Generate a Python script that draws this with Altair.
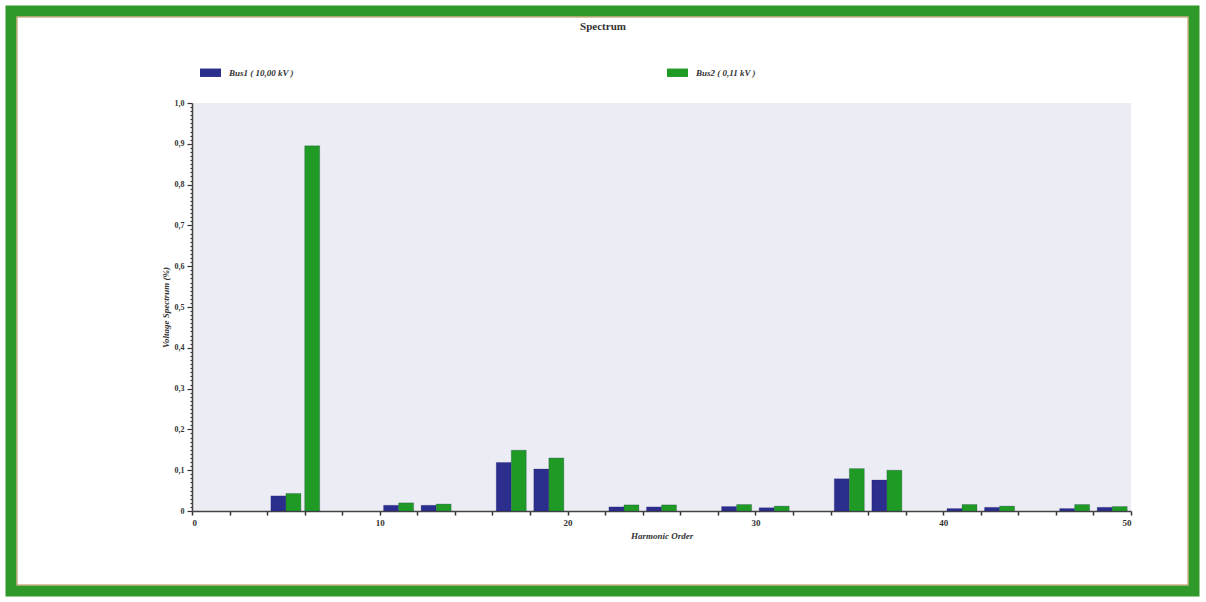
import altair as alt
import pandas as pd

# ---- data ----
orders = [5, 6, 11, 13, 17, 19, 23, 25, 29, 31, 35, 37, 41, 43, 47, 49]
bus1 = [0.037, 0.0, 0.014, 0.014, 0.119, 0.103, 0.010, 0.010, 0.011, 0.008,
        0.079, 0.076, 0.006, 0.009, 0.006, 0.009]
bus2 = [0.043, 0.895, 0.020, 0.017, 0.149, 0.130, 0.015, 0.015, 0.016, 0.012,
        0.104, 0.100, 0.016, 0.012, 0.016, 0.011]
series_names = ["Bus1 ( 10,00 kV )", "Bus2 ( 0,11 kV )"]
series_colors = ["#2c2e8e", "#1f9b25"]
chart_title = "Spectrum"
x_tick_values = list(range(0, 51, 2))
y_tick_values = [round(i * 0.01, 2) for i in range(0, 101)]

rows = []
for o, a, b in zip(orders, bus1, bus2):
    rows.append({"order": o, "series": series_names[0], "value": a, "side": 0})
    rows.append({"order": o, "series": series_names[1], "value": b, "side": 1})
df = pd.DataFrame(rows)

FONT = "Liberation Serif"
W, H = 939, 408

x_scale = alt.Scale(domain=[0, 50], nice=False, zero=False)
y_scale = alt.Scale(domain=[0, 1.0], nice=False)

bars = alt.Chart(df).transform_filter("datum.value > 0").transform_calculate(
    x0="datum.order - 0.8 + datum.side * 0.8",
    x1="datum.order + datum.side * 0.8",
).mark_bar(strokeWidth=0.6, stroke="#1a1a50", strokeOpacity=0.35).encode(
    x=alt.X("x0:Q", scale=x_scale,
            axis=alt.Axis(
                values=x_tick_values,
                title="Harmonic Order",
                labelExpr="datum.value % 10 == 0 ? datum.label : ''",
                tickSize=4, tickColor="#333333", tickWidth=1.5,
                domainColor="#444444", domainWidth=1.5,
                labelFont=FONT, labelFontSize=9, labelFontWeight="bold",
                labelColor="#333333", labelPadding=3,
                titleFont=FONT, titleFontSize=9, titleFontStyle="italic",
                titleFontWeight="bold", titleColor="#333333", titlePadding=4,
                grid=False)),
    x2="x1:Q",
    y=alt.Y("value:Q", scale=y_scale,
            axis=alt.Axis(
                values=y_tick_values,
                title="Voltage Spectrum (%)",
                labelExpr="abs(datum.value*10 - round(datum.value*10)) < 1e-6 ? (datum.value == 0 ? '0' : replace(format(datum.value, '.1f'), '.', ',')) : ''",
                tickSize={"condition": {"test": "abs(datum.value*10 - round(datum.value*10)) < 1e-6", "value": 5}, "value": 2},
                tickColor="#333333", tickWidth=1.2,
                domainColor="#444444", domainWidth=1.5,
                labelFont=FONT, labelFontSize=8, labelFontWeight="bold",
                labelColor="#333333", labelPadding=3,
                titleFont=FONT, titleFontSize=9, titleFontStyle="italic",
                titleFontWeight="bold", titleColor="#333333", titlePadding=4,
                grid=False)),
    y2=alt.datum(0),
    color=alt.Color("series:N",
                    scale=alt.Scale(domain=series_names, range=series_colors),
                    legend=alt.Legend(
                        title=None, orient="none", legendX=8, legendY=-41,
                        direction="horizontal", columns=2, columnPadding=373,
                        symbolType="M-1,-0.4L1,-0.4L1,0.4L-1,0.4Z",
                        symbolSize=441, symbolStrokeWidth=0,
                        labelFont=FONT, labelFontSize=9, labelFontStyle="italic",
                        labelFontWeight="bold", labelColor="#333333",
                        labelOffset=8)),
)

# decorative outer green frame
frame = alt.Chart(pd.DataFrame({"k": [0]})).mark_rect(
    fill=None, stroke="#2f9a2a", strokeWidth=11
).encode(
    x=alt.value(-181), x2=alt.value(1002),
    y=alt.value(-92), y2=alt.value(H + 80),
)
frame_inner = alt.Chart(pd.DataFrame({"k": [0]})).mark_rect(
    fill=None, stroke="#b58a4a", strokeWidth=1
).encode(
    x=alt.value(-175), x2=alt.value(996),
    y=alt.value(-86), y2=alt.value(H + 74),
)

title = alt.Chart(pd.DataFrame({"t": [chart_title]})).mark_text(
    font=FONT, fontSize=11, fontWeight="bold", color="#333333",
    align="center", baseline="middle"
).encode(
    text="t:N", x=alt.value(411), y=alt.value(-76)
)

chart = alt.layer(frame, frame_inner, title, bars).properties(
    width=W, height=H,
    autosize=alt.AutoSizeParams(type="none"),
    padding={"left": 192, "top": 103, "right": 75, "bottom": 91},
    background="white",
).configure_view(fill="#ececf5", stroke=None)

chart.save("out.html", embed_options={"renderer": "svg", "actions": False})
